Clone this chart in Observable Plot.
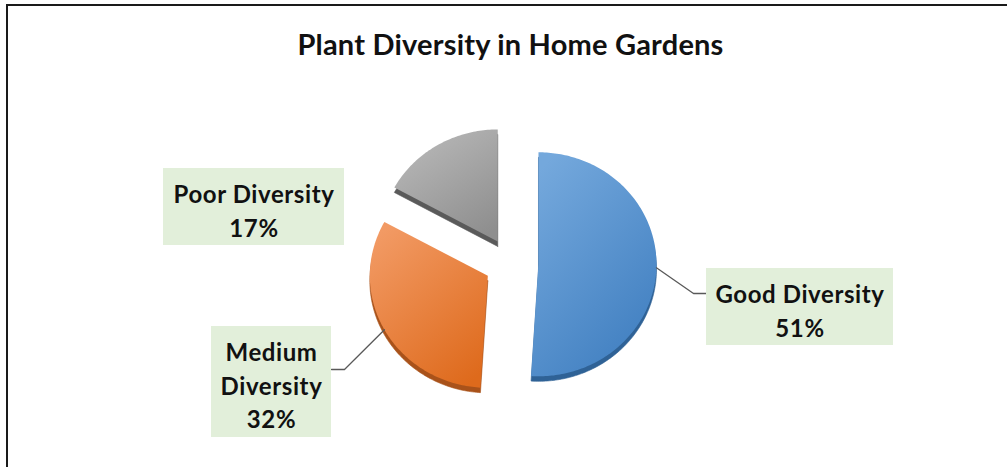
<!DOCTYPE html>
<html><head><meta charset="utf-8">
<script src="https://cdn.jsdelivr.net/npm/d3@7"></script>
<script src="https://cdn.jsdelivr.net/npm/@observablehq/plot@0.6"></script>
<style>
html,body{margin:0;padding:0;background:#fff;}
#wrap{position:relative;width:1007px;height:467px;overflow:hidden;background:#fff;}
#frame{position:absolute;left:6px;top:4px;right:-10px;bottom:-10px;border-left:2px solid #1a1a1a;border-top:2px solid #1a1a1a;pointer-events:none;}
#title{position:absolute;left:7px;top:29px;width:1007px;text-align:center;font:700 29px Lato, sans-serif;line-height:1;letter-spacing:0.2px;color:#111;}
#chart{position:absolute;left:0;top:75px;}
</style></head>
<body>
<div id="wrap"><div id="title">Plant Diversity in Home Gardens</div><div id="chart"></div><div id="frame"></div></div>
<svg width="0" height="0" style="position:absolute;left:0;top:0">
<defs>
 <linearGradient id="g0" x1="0.2" y1="0" x2="0.8" y2="1">
  <stop offset="0" stop-color="#74a8dc"/><stop offset="1" stop-color="#3f7ec0"/>
 </linearGradient>
 <linearGradient id="g1" x1="0.2" y1="0" x2="0.8" y2="1">
  <stop offset="0" stop-color="#f29a64"/><stop offset="1" stop-color="#de6a1c"/>
 </linearGradient>
 <linearGradient id="g2" x1="0.2" y1="0" x2="0.8" y2="1">
  <stop offset="0" stop-color="#b9b9b9"/><stop offset="1" stop-color="#8e8e8e"/>
 </linearGradient>
</defs></svg>
<script>
// ---- data ----
const categories = ["Good Diversity", "Medium Diversity", "Poor Diversity"];
const shares = [51, 32, 17];
const labelLines = ["Good Diversity", "Medium\nDiversity", "Poor Diversity"];

// ---- layout / style (image pixels) ----
const W = 1007, T = 75, H = 392;
const CX = 511, CY = 263, RX = 118, RY = 112, EXPLODE = 27, DEPTH = 5;
const depthColors = ["#2f6296", "#a9521a", "#5a5a5a"];
const labelLayout = [
  {box: [706, 893, 268, 345], leader: [[693, 293], [706, 293]]},
  {box: [211, 331, 326, 437], leader: [[344, 369], [331, 369]]},
  {box: [163, 344, 168, 245], leader: null}
];
const px2x = px => (px - CX) / RX;
const px2y = py => (CY - py) / RY;

// ---- slices ----
const total = d3.sum(shares);
let acc = 0;
const slices = shares.map((v, i) => {
  const a0 = acc / total * 2 * Math.PI; acc += v;
  const a1 = acc / total * 2 * Math.PI;
  const mid = (a0 + a1) / 2;
  const e = EXPLODE / RX;
  const cx = e * Math.sin(mid), cy = e * Math.cos(mid);
  const pts = [{x: cx, y: cy}];
  const n = Math.max(4, Math.ceil((a1 - a0) / (Math.PI / 180)));
  for (let k = 0; k <= n; k++) {
    const a = a0 + (a1 - a0) * k / n;
    pts.push({x: cx + Math.sin(a), y: cy + Math.cos(a)});
  }
  pts.push({x: cx, y: cy});
  return {i, category: categories[i], value: v, a0, a1, mid, cx, cy, pts};
});

const leaders = [];
slices.forEach((s, i) => {
  const L = labelLayout[i].leader;
  if (!L) return;
  leaders.push({i, x: s.cx + Math.sin(s.mid), y: s.cy + Math.cos(s.mid)});
  L.forEach(([px, py]) => leaders.push({i, x: px2x(px), y: px2y(py)}));
});

const boxes = slices.map((s, i) => {
  const [l, r, t, b] = labelLayout[i].box;
  return {x1: px2x(l), x2: px2x(r), y1: px2y(b), y2: px2y(t)};
});
const labels = slices.map((s, i) => {
  const [l, r, t, b] = labelLayout[i].box;
  return {x: px2x((l + r) / 2), y: px2y((t + b) / 2 + 2), text: `${labelLines[i]}\n${s.value}%`};
});

const marks = [];
slices.forEach(s => marks.push(Plot.line(s.pts, {x: "x", y: "y", fill: depthColors[s.i], stroke: depthColors[s.i], strokeWidth: 0.6, dy: DEPTH})));
slices.forEach(s => marks.push(Plot.line(s.pts, {x: "x", y: "y", fill: `url(#g${s.i})`, stroke: "none"})));
marks.push(Plot.line(leaders, {x: "x", y: "y", z: "i", stroke: "#595959", strokeWidth: 1.3}));
marks.push(Plot.rect(boxes, {x1: "x1", x2: "x2", y1: "y1", y2: "y2", fill: "#e2efda"}));
marks.push(Plot.text(labels, {x: "x", y: "y", text: "text", fontSize: 24, fontWeight: 700, fontFamily: "Lato, sans-serif", lineHeight: 1.4, lineAnchor: "middle", fill: "#111"}));

const chart = Plot.plot({
  width: W, height: H, margin: 0,
  x: {domain: [px2x(0), px2x(W)], range: [0, W], axis: null},
  y: {domain: [px2y(T + H), px2y(T)], range: [H, 0], axis: null},
  style: {background: "transparent", overflow: "visible"},
  marks
});
chart.querySelectorAll("text").forEach(t => t.setAttribute("letter-spacing", "0.6"));
document.getElementById("chart").appendChild(chart);
</script>
</body></html>
